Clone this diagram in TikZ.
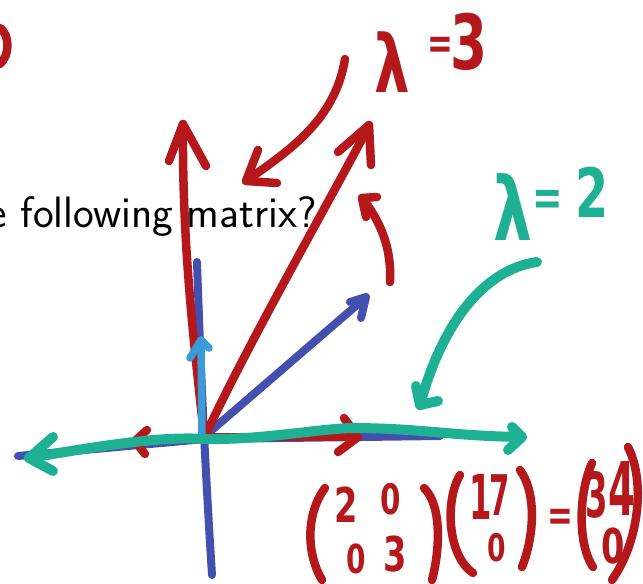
\documentclass[tikz,border=0pt]{standalone}
\usepackage{fontspec}
\newfontfamily\hand{DejaVu Sans}
\definecolor{penred}{HTML}{B4181B}
\definecolor{penblue}{HTML}{4350B0}
\definecolor{pengreen}{HTML}{1DB092}
\definecolor{penlight}{HTML}{3C9AD8}
\newcommand{\hs}[1]{\hand\bfseries\fontsize{#1}{#1}\selectfont}
\newcommand{\nar}[1]{\scalebox{0.7}[1]{#1}}
\newcommand{\narr}[1]{\scalebox{0.52}[1]{#1}}
\begin{document}
\begin{tikzpicture}[x=1pt,y=-1pt,line cap=round,line join=round]
\tikzset{
  redpen/.style={draw=penred,line width=8.5pt},
  bluepen/.style={draw=penblue,line width=8pt},
  lightpen/.style={draw=penlight,line width=7.5pt},
  greenpen/.style={draw=pengreen,line width=10pt},
  redtxt/.style={text=penred,inner sep=0pt},
  greentxt/.style={text=pengreen,inner sep=0pt}
}
\useasboundingbox (0,0) rectangle (643,584);
% question text
\node[anchor=base east,inner sep=0pt,font=\sffamily\fontsize{44}{48}\selectfont] (q) at (317,227) {e following matrix?};
% top-left red mark
\draw[redpen] (0,28) .. controls (10,35) and (10,55) .. (0,64);
% blue axes
\draw[bluepen] (197,262) .. controls (200,350) and (204,450) .. (212,575);
\draw[bluepen] (18,456) -- (205,439) -- (440,436);
% blue diagonal vector
\draw[bluepen] (205,436) -- (365,298);
\draw[bluepen] (350,302) -- (366,297) -- (361,318);
% red vertical vector
\draw[redpen] (204,436) .. controls (195,350) and (182,250) .. (183,125);
\draw[redpen] (169,161) -- (183,124) -- (206,166);
% red diagonal vector
\draw[redpen] (206,434) .. controls (250,340) and (330,200) .. (369,126);
\draw[redpen] (338,152) -- (369,125) -- (371,165);
% red rotation arrow
\draw[redpen] (390,282) .. controls (392,245) and (378,218) .. (362,198);
\draw[redpen] (377,197) -- (362,198) -- (366,217);
% red pointer to lambda=3
\draw[redpen] (345,59) .. controls (335,120) and (290,150) .. (246,181);
\draw[redpen] (258,150) -- (246,181) -- (277,183);
% red horizontal arrows
\draw[redpen] (205,438) -- (135,441);
\draw[redpen] (147,430) -- (135,441) -- (145,454);
\draw[redpen] (205,437) -- (358,437);
\draw[redpen] (344,418) -- (358,437) -- (338,452);
% light blue short vector
\draw[lightpen] (202,436) -- (201,340);
\draw[lightpen] (190,358) -- (201,340) -- (209,348);
% green horizontal line
\draw[greenpen] (29,458) .. controls (100,446) and (160,436) .. (205,439)
  .. controls (260,440) and (310,430) .. (350,428)
  .. controls (420,428) and (450,436) .. (522,437);
\draw[greenpen] (53,437) -- (29,458) -- (53,471);
\draw[greenpen] (512,427) -- (522,437) -- (508,450);
% green pointer to lambda=2
\draw[greenpen] (537,262) .. controls (480,270) and (440,330) .. (420,405);
\draw[greenpen] (416,386) -- (420,405) -- (438,401);
% lambda labels
\node[redtxt,font=\hs{80}] (l3a) at (392,62) {\nar{λ}};
\node[redtxt,font=\hs{44}] (l3b) at (440,48) {\nar{=}};
\node[redtxt,font=\hs{76}] (l3c) at (469,42) {\nar{3}};
\node[greentxt,font=\hs{88}] (l2a) at (513,207) {\nar{λ}};
\node[greentxt,font=\hs{52}] (l2b) at (548,203) {\nar{=}};
\node[greentxt,font=\hs{68}] (l2c) at (592,192) {\nar{2}};
% matrix parentheses
\draw[redpen] (325,488) .. controls (305,515) and (307,555) .. (322,580);
\draw[redpen] (424,488) .. controls (442,505) and (440,550) .. (432,580);
\draw[redpen] (460,475) .. controls (445,500) and (447,555) .. (473,573);
\draw[redpen] (520,470) .. controls (538,495) and (533,540) .. (522,567);
\draw[redpen] (592,463) .. controls (578,495) and (578,545) .. (593,567);
\draw[redpen] (628,447) .. controls (645,480) and (640,540) .. (612,580);
% matrix entries
\node[redtxt,font=\hs{48}] (m11) at (346,505) {\nar{2}};
\node[redtxt,font=\hs{42}] (m12) at (391,499) {\nar{0}};
\node[redtxt,font=\hs{40}] (m21) at (356,559) {\nar{0}};
\node[redtxt,font=\hs{48}] (m22) at (395,554) {\nar{3}};
\node[redtxt,font=\hs{62}] (v1a) at (481,497) {\narr{1}};
\node[redtxt,font=\hs{56}] (v1b) at (500,495) {\narr{7}};
\node[redtxt,font=\hs{38}] (v2) at (497,548) {\nar{0}};
\node[redtxt,font=\hs{44}] (eq) at (560,520) {\nar{=}};
\node[redtxt,font=\hs{62}] (r1a) at (597,495) {\narr{3}};
\node[redtxt,font=\hs{74}] (r1b) at (622,489) {\narr{4}};
\node[redtxt,font=\hs{48}] (r2) at (613,546) {\nar{0}};
\end{tikzpicture}
\end{document}
